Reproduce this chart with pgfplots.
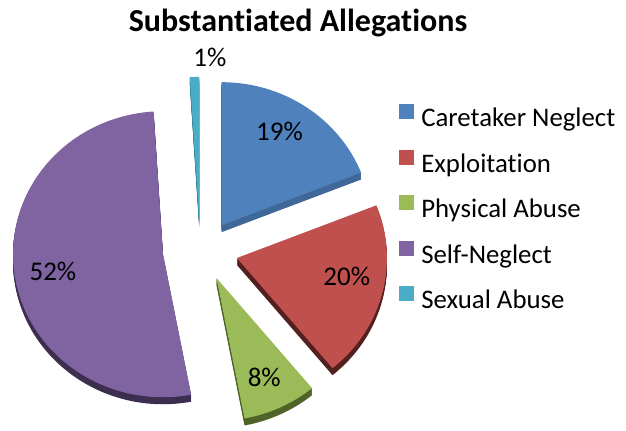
\documentclass[border=0pt]{standalone}
\usepackage{pgfplots}
\usepackage{pgfplotstable}
\pgfplotsset{compat=1.18}
\usepackage{fontspec}
\setmainfont{Carlito}[Ligatures={NoCommon}]
\definecolor{cblue}{HTML}{4F81BD}
\definecolor{cred}{HTML}{C0504D}
\definecolor{cgreen}{HTML}{9BBB59}
\definecolor{cpurple}{HTML}{8064A2}
\definecolor{ccyan}{HTML}{4BACC6}
\definecolor{sblue}{HTML}{3F6899}
\definecolor{sred}{HTML}{52201F}
\definecolor{sgreen}{HTML}{4F6228}
\definecolor{spurple}{HTML}{3B2E4F}
\definecolor{scyan}{HTML}{2F7F94}

\pgfplotstableread[col sep=comma]{
name,value,top,side,lr,ldx,ldy
Caretaker Neglect,19,cblue,sblue,0.77,-7,3
Exploitation,20,cred,sred,0.77,-2,9
Physical Abuse,8,cgreen,sgreen,0.78,-2,2
Self-Neglect,52,cpurple,spurple,0.76,3,-4
Sexual Abuse,1,ccyan,scyan,1.13,16,1
}\pietable

\def\cx{200.4}\def\cy{179.6}
\def\rx{150}\def\ry{143}
\def\ex{37.7}\def\ey{30.5}

\begin{document}
\begin{tikzpicture}
\begin{axis}[
  x=0.5pt, y=0.5pt, scale only axis,
  xmin=0, xmax=626, ymin=0, ymax=430,
  axis line style={draw=none}, xtick=\empty, ytick=\empty, clip=false,
  legend cell align=left,
  legend style={at={(axis cs:398.5,326)}, anchor=north west, draw=none, fill=none,
    font=\fontsize{13.4}{15}\selectfont, row sep=8.5pt, column sep=3.8pt,
    inner sep=0pt, nodes={inner sep=0pt, text height=9pt, text depth=3pt}},
  legend image code/.code={\fill[#1] (0pt,1pt) rectangle (7pt,8pt);},
]
\addlegendimage{cblue}\addlegendentry{Caretaker Neglect}
\addlegendimage{cred}\addlegendentry{Exploitation}
\addlegendimage{cgreen}\addlegendentry{Physical Abuse}
\addlegendimage{cpurple}\addlegendentry{Self-Neglect}
\addlegendimage{ccyan}\addlegendentry{Sexual Abuse}
\pgfplotsextra{
  \xdef\acc{0}
  \pgfmathsetmacro\rxp{0.5*\rx}
  \pgfmathsetmacro\ryp{0.5*\ry}
  \foreach \i in {0,...,4}{
    \pgfplotstablegetelem{\i}{value}\of\pietable \let\v\pgfplotsretval
    \pgfplotstablegetelem{\i}{top}\of\pietable \let\ct\pgfplotsretval
    \pgfplotstablegetelem{\i}{side}\of\pietable \let\cs\pgfplotsretval
    \pgfplotstablegetelem{\i}{lr}\of\pietable \let\lr\pgfplotsretval
    \pgfplotstablegetelem{\i}{ldx}\of\pietable \let\ldx\pgfplotsretval
    \pgfplotstablegetelem{\i}{ldy}\of\pietable \let\ldy\pgfplotsretval
    \pgfmathsetmacro\ta{90-3.6*\acc}
    \pgfmathsetmacro\tb{90-3.6*(\acc+\v)}
    \pgfmathsetmacro\tm{(\ta+\tb)/2}
    \pgfmathsetmacro\px{\cx+\ex*cos(\tm)}
    \pgfmathsetmacro\py{\cy+\ey*sin(\tm)}
    \pgfmathsetmacro\sx{\px+\rx*cos(\ta)}
    \pgfmathsetmacro\sy{\py+\ry*sin(\ta)}
    \pgfmathsetmacro\lx{\px+\lr*\rx*cos(\tm)+\ldx}
    \pgfmathsetmacro\ly{\py+\lr*\ry*sin(\tm)+\ldy}
    \foreach \k in {1,...,7}{
      \pgfmathsetmacro\pyk{\py-\k}
      \pgfmathsetmacro\syk{\sy-\k}
      \fill[\cs] (axis cs:\px,\pyk) -- (axis cs:\sx,\syk)
        arc[start angle=\ta, end angle=\tb, x radius=\rxp pt, y radius=\ryp pt] -- cycle;
    }
    \fill[\ct] (axis cs:\px,\py) -- (axis cs:\sx,\sy)
      arc[start angle=\ta, end angle=\tb, x radius=\rxp pt, y radius=\ryp pt] -- cycle;
    \node[font=\fontsize{13.5}{15}\selectfont] at (axis cs:\lx,\ly) {\v\%};
    \pgfmathsetmacro\na{\acc+\v}
    \xdef\acc{\na}
  }
  \node[font=\bfseries\fontsize{16}{20}\selectfont, anchor=base] at (axis cs:298,399) {Substantiated Allegations};
}
\end{axis}
\end{tikzpicture}
\end{document}
